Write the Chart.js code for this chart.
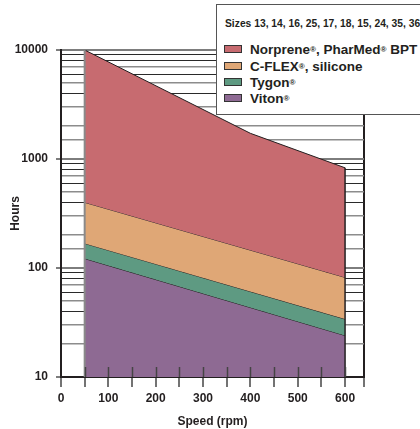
<!DOCTYPE html>
<html><head><meta charset="utf-8">
<script src="https://cdn.jsdelivr.net/npm/chart.js@4/dist/chart.umd.min.js"></script>
<style>
html,body{margin:0;padding:0;background:#fff;}
#wrap{position:relative;width:420px;height:429px;overflow:hidden;}
#legend{position:absolute;left:216px;top:4px;width:240px;height:111px;background:#fff;border:1.5px solid #555;box-sizing:border-box;
  font-family:"Liberation Sans",Arial,sans-serif;font-weight:bold;color:#231f20;}
#legend .ttl{position:absolute;left:8px;top:12px;font-size:10.3px;line-height:13px;white-space:nowrap;}
#legend .row{position:absolute;left:7px;height:16px;line-height:16px;font-size:13.5px;white-space:nowrap;}
#legend .sw{display:inline-block;width:18px;height:8px;border:1px solid #333;box-sizing:border-box;vertical-align:middle;margin-right:8px;position:relative;top:-1px;}
#legend .r{font-size:0.6em;position:relative;top:-2px;}
</style></head>
<body><div id="wrap"><canvas id="c" width="420" height="429"></canvas><div id="legend"></div></div>
<script>
// ---- data ----
const legendTitle = "Sizes 13, 14, 16, 25, 17, 18, 15, 24, 35, 36";
const seriesNames = ["Norprene®, PharMed® BPT", "C-FLEX®, silicone", "Tygon®", "Viton®"];
const seriesColors = ["#c76b70", "#dfa776", "#5e9a82", "#8e6a93"];
const norpreneSpeed = [50, 400, 600];
const norpreneHours = [10000, 1720, 830];
const cflexSpeed = [50, 600];
const cflexHours = [400, 82];
const tygonSpeed = [50, 600];
const tygonHours = [168, 34];
const vitonSpeed = [50, 600];
const vitonHours = [122, 24];
const xTickLabels = [0, 100, 200, 300, 400, 500, 600];
const xTickMarks = [0, 50, 100, 150, 200, 250, 300, 350, 400, 450, 500, 550, 600, 640];
const yTickLabels = [10, 100, 1000, 10000];

const FONT = '"Liberation Sans",Arial,sans-serif';
const pts = (xs, ys) => xs.map((x, i) => ({x: x, y: ys[i]}));
const allSpeeds = [norpreneSpeed, cflexSpeed, tygonSpeed, vitonSpeed];
const allHours = [norpreneHours, cflexHours, tygonHours, vitonHours];
const yMin = Math.min(...yTickLabels), yMax = Math.max(...yTickLabels);
const xMin = xTickMarks[0], xMax = xTickMarks[xTickMarks.length - 1];

const datasets = seriesNames.map((name, i) => ({
  label: name,
  data: pts(allSpeeds[i], allHours[i]),
  borderColor: '#231f20',
  borderWidth: 1,
  backgroundColor: seriesColors[i],
  pointRadius: 0,
  tension: 0,
  fill: i < seriesNames.length - 1 ? '+1' : 'start'
}));
// left and right edges of the shaded band
datasets.push({label: '_left', data: [{x: norpreneSpeed[0], y: yMin}, {x: norpreneSpeed[0], y: norpreneHours[0]}],
  borderColor: '#8a8a8a', borderWidth: 2, pointRadius: 0, fill: false, order: -1});
datasets.push({label: '_right', data: [{x: norpreneSpeed[norpreneSpeed.length-1], y: yMin}, {x: norpreneSpeed[norpreneSpeed.length-1], y: norpreneHours[norpreneHours.length-1]}],
  borderColor: '#231f20', borderWidth: 1.5, pointRadius: 0, fill: false, order: -1});

function mantissa(v) { const p = Math.pow(10, Math.floor(Math.log10(v) + 1e-9)); return Math.round(v / p); }

const innerTicks = {
  id: 'innerTicks',
  afterDraw(chart) {
    const xs = chart.scales.x, ca = chart.chartArea, ctx = chart.ctx;
    ctx.save(); ctx.strokeStyle = '#444'; ctx.lineWidth = 1.5;
    xs.ticks.forEach(t => {
      if (t.value <= xs.min || t.value >= xs.max) return;
      const px = Math.round(xs.getPixelForValue(t.value)) + 0.5;
      ctx.beginPath(); ctx.moveTo(px, ca.bottom - 10); ctx.lineTo(px, ca.bottom); ctx.stroke();
    });
    ctx.restore();
  }
};

const chart = new Chart(document.getElementById('c'), {
  type: 'line',
  data: {datasets: datasets},
  options: {
    responsive: false, animation: false, devicePixelRatio: 1,
    layout: {padding: {left: 0, top: 50, right: 56, bottom: 0}},
    plugins: {legend: {display: false}, tooltip: {enabled: false}, filler: {propagate: false}},
    scales: {
      x: {
        type: 'linear', min: xMin, max: xMax, z: 1,
        afterFit: s => { s.height = 52; },
        afterBuildTicks: s => { s.ticks = xTickMarks.map(v => ({value: v})); },
        ticks: {autoSkip: false, maxRotation: 0, padding: 4, color: '#231f20',
          font: {family: FONT, weight: 'bold', size: 12},
          callback: v => xTickLabels.includes(v) ? String(v) : ''},
        grid: {drawOnChartArea: true, tickLength: 10, tickWidth: 1.5, tickColor: '#444', lineWidth: 2,
          color: c => (c.tick && c.tick.value === xMax) ? '#231f20' : 'rgba(0,0,0,0)'},
        border: {display: true, color: '#231f20', width: 2},
        title: {display: true, text: 'Speed (rpm)', color: '#231f20', padding: {top: 0, bottom: 0},
          font: {family: FONT, weight: 'bold', size: 12}}
      },
      y: {
        type: 'logarithmic', min: yMin, max: yMax, z: 1,
        afterFit: s => { s.width = 61; },
        ticks: {autoSkip: false, padding: 8, color: '#231f20',
          font: {family: FONT, weight: 'bold', size: 12},
          callback: v => yTickLabels.includes(v) ? String(v) : ''},
        grid: {tickLength: 5,
          color: c => { const m = mantissa(c.tick.value); return m === 1 ? '#7d7d7d' : ([9, 8, 6, 4].includes(m) ? '#2a2a2a' : '#8c8c8c'); },
          lineWidth: c => { const m = mantissa(c.tick.value); return m === 1 ? 2 : ([9, 8, 6, 4].includes(m) ? 1 : 1.5); },
          tickColor: c => mantissa(c.tick.value) === 1 ? '#7d7d7d' : 'rgba(0,0,0,0)', tickWidth: 2},
        border: {display: true, color: '#231f20', width: 2},
        title: {display: true, text: 'Hours', color: '#231f20', padding: {top: 8, bottom: 0},
          font: {family: FONT, weight: 'bold', size: 12}}
      }
    }
  },
  plugins: [innerTicks]
});

// legend built from the dataset labels/colours
const lg = document.getElementById('legend');
const esc = s => s.replace(/®/g, '<span class="r">®</span>');
let html = '<div class="ttl">' + legendTitle + '</div>';
const rowCenters = [50.5, 67, 83, 99];
seriesNames.forEach((n, i) => {
  const top = rowCenters[i] - 8 - 4 - 1.5;
  html += '<div class="row" style="top:' + top + 'px"><span class="sw" style="background:' + chart.data.datasets[i].backgroundColor + '"></span>' + esc(n) + '</div>';
});
lg.innerHTML = html;
</script>
</body></html>
